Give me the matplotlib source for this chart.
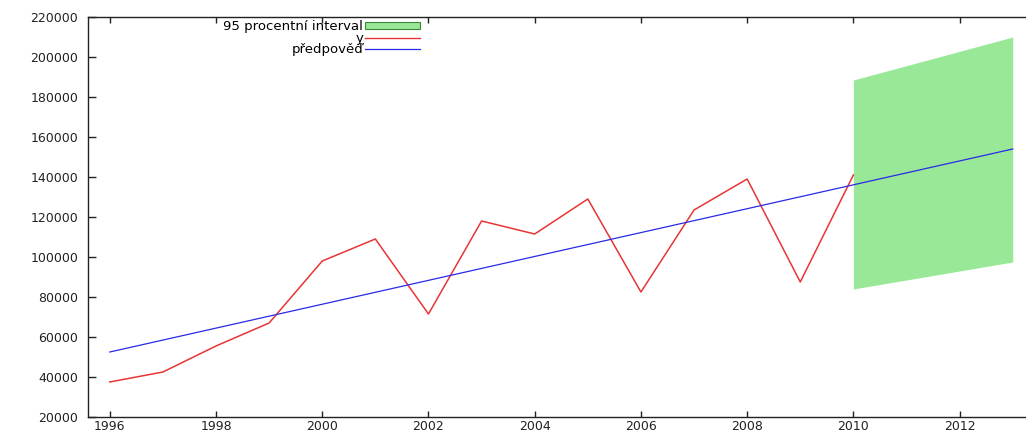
import numpy as np
import matplotlib
matplotlib.use("Agg")
import matplotlib.pyplot as plt
from matplotlib.patches import Patch
from matplotlib.lines import Line2D

# observed series
years = [1996, 1997, 1998, 1999, 2000, 2001, 2002, 2003,
         2004, 2005, 2006, 2007, 2008, 2009, 2010]
y_obs = [37500, 42500, 55500, 67000, 98000, 109000, 71500, 118000,
         111500, 129000, 82500, 123500, 139000, 87500, 141000]

# linear trend (forecast line)
trend_years = [1996, 2013]
trend_vals = [52500, 154000]

# 95 % interval for the forecast horizon
band_years = [2010, 2013]
band_low = [84000, 97500]
band_high = [188500, 210000]

yticks = list(range(20000, 220001, 20000))
xticks = list(range(1996, 2013, 2))

W, H = 1026, 433
fig = plt.figure(figsize=(W / 100, H / 100), dpi=100)
# the plot box runs past the right edge of the canvas
ax = fig.add_axes([88 / W, 16 / H, (1060 - 88) / W, (417 - 17) / H])

ax.fill_between(band_years, band_low, band_high, color="#98e898", lw=0)
ax.plot(years, y_obs, color="#e83436", lw=1.1)
ax.plot(trend_years, trend_vals, color="#2a2ae6", lw=0.9)

ax.set_xlim(1995.59, 2013.89)
ax.set_ylim(20000, 220000)
ax.set_xticks(xticks)
ax.set_yticks(yticks)
ax.set_yticklabels([str(v) for v in yticks])

for s in ax.spines.values():
    s.set_linewidth(1.0)
    s.set_color("#222222")

ax.tick_params(axis="both", direction="in", top=True, right=True,
               labelsize=9, colors="#222222", width=1.0)
ax.tick_params(axis="y", length=6, pad=7)
ax.tick_params(axis="x", length=4, pad=2)

# gnuplot-like key: labels on the left, samples on the right
handles = [
    Patch(facecolor="#98e898", edgecolor="#3a8a3a", lw=0.8),
    Line2D([], [], color="#e83436", lw=1.0),
    Line2D([], [], color="#2a2ae6", lw=0.9),
]
labels = ["95 procentní interval", "y", "předpověď"]
ax.legend(handles, labels, loc="upper right",
          bbox_to_anchor=(420 / W, 1 - 20 / H), bbox_transform=fig.transFigure,
          frameon=False, markerfirst=False, fontsize=9.5, borderpad=0,
          borderaxespad=0, labelspacing=-0.1, handlelength=4.2,
          handleheight=0.45, handletextpad=0.1)

fig.savefig("out.png", dpi=100)
